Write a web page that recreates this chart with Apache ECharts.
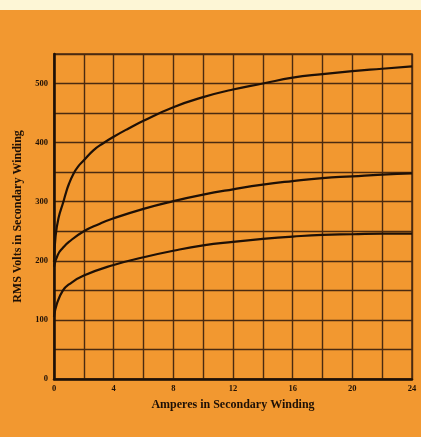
<!DOCTYPE html>
<html>
<head>
<meta charset="utf-8">
<script src="https://cdn.jsdelivr.net/npm/echarts@6/dist/echarts.min.js"></script>
<style>
  html, body { margin: 0; padding: 0; background: #F29830; }
  #chart { width: 421px; height: 437px; }
</style>
</head>
<body>
<div id="chart"></div>
<script>
// Secondary current (A) against RMS secondary voltage for three windings
const upperAmps  = [0, 0.1, 0.3, 0.63, 0.8, 1, 1.3, 1.6, 2, 2.64, 3.3, 4, 5, 6, 8, 10, 12, 14, 16, 18, 20, 22, 24];
const upperVolts = [198, 240, 272, 300, 315, 330, 347, 359, 370, 387, 399, 410, 424, 437, 460, 477, 490, 500, 510, 516, 521, 525, 529];

const middleAmps  = [0, 0.25, 0.6, 1, 2, 3, 4, 6, 8, 10, 12, 14, 16, 18, 20, 22, 24];
const middleVolts = [190, 210, 222, 232, 250, 262, 272, 288, 301, 312, 321, 329, 335, 340, 343, 346, 348];

const lowerAmps  = [0, 0.2, 0.6, 1, 2, 4, 6, 8, 10, 12, 14, 16, 18, 20, 22, 24];
const lowerVolts = [105, 128, 150, 160, 175, 193, 206, 217, 226, 232, 237, 241, 244, 245, 246, 246];

const xTickLabels = ['0', '4', '8', '12', '16', '20', '24'];
const yTickLabels = ['0', '100', '200', '300', '400', '500'];

const ink = '#1e1006';
const gridInk = '#4a2a10';
const fontFamily = '"Liberation Serif", "DejaVu Serif", serif';

function pairs(xs, ys) { return xs.map((x, i) => [x, ys[i]]); }

const chart = echarts.init(document.getElementById('chart'), null, { renderer: 'canvas' });

const curve = (name, xs, ys) => ({
  name: name,
  type: 'line',
  data: pairs(xs, ys),
  smooth: 0.5,
  showSymbol: false,
  lineStyle: { color: ink, width: 2.2 },
  z: 5
});

chart.setOption({
  backgroundColor: '#F29830',
  animation: false,
  // pale paper strip along the top edge of the page
  graphic: [{
    type: 'rect',
    left: 0, top: 0,
    shape: { width: 421, height: 10 },
    style: { fill: '#FDF6D6' },
    z: -1
  }],
  grid: { left: 54, top: 54, right: 9, bottom: 58, show: true, borderColor: gridInk, borderWidth: 1.5 },
  xAxis: {
    type: 'value',
    min: 0, max: 24, interval: 2,
    name: 'Amperes in Secondary Winding',
    nameLocation: 'middle',
    nameGap: 20,
    nameTextStyle: { fontFamily: fontFamily, fontWeight: 'bold', fontSize: 12, color: ink },
    axisLine: { show: true, lineStyle: { color: ink, width: 2.5 } },
    axisTick: { show: false },
    axisLabel: {
      margin: 5,
      fontFamily: fontFamily, fontWeight: 'bold', fontSize: 8.5, color: ink,
      formatter: v => (v % 4 === 0 ? xTickLabels[v / 4] : '')
    },
    splitLine: { show: true, lineStyle: { color: gridInk, width: 1.4 } }
  },
  yAxis: {
    type: 'value',
    min: 0, max: 550, interval: 50,
    name: 'RMS Volts in Secondary Winding',
    nameLocation: 'middle',
    nameGap: 30,
    nameTextStyle: { fontFamily: fontFamily, fontWeight: 'bold', fontSize: 12, color: ink },
    axisLine: { show: true, lineStyle: { color: ink, width: 2.5 } },
    axisTick: { show: false },
    axisLabel: {
      margin: 6,
      fontFamily: fontFamily, fontWeight: 'bold', fontSize: 8.5, color: ink,
      formatter: v => (v % 100 === 0 && v <= 500 ? yTickLabels[v / 100] : '')
    },
    splitLine: { show: true, lineStyle: { color: gridInk, width: 1.4 } }
  },
  series: [
    curve('upper', upperAmps, upperVolts),
    curve('middle', middleAmps, middleVolts),
    curve('lower', lowerAmps, lowerVolts)
  ]
});
</script>
</body>
</html>
